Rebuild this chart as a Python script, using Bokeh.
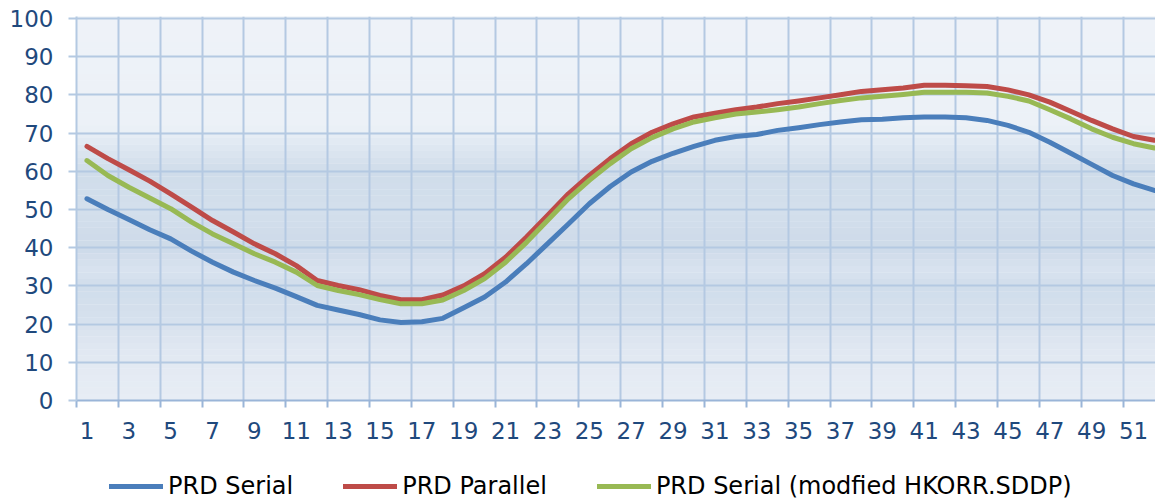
from bokeh.plotting import figure
from bokeh.models import FixedTicker, Legend, LegendItem, BoxAnnotation, Range1d
from bokeh.layouts import column
from bokeh.embed import file_html
from bokeh.resources import INLINE

# ---- data ----
weeks = list(range(1, 53))
tick_weeks = weeks[::2]
prd_serial = [52.8, 50.0, 47.4, 44.7, 42.3, 39.1, 36.2, 33.6, 31.4, 29.4, 27.2, 24.9, 23.7, 22.5,
              21.1, 20.4, 20.6, 21.5, 24.3, 27.1, 31.0, 35.8, 41.0, 46.2, 51.5, 56.0, 59.8, 62.6,
              64.7, 66.5, 68.1, 69.1, 69.6, 70.7, 71.4, 72.2, 72.9, 73.5, 73.6, 74.0, 74.2, 74.2,
              74.0, 73.3, 72.0, 70.2, 67.6, 64.7, 61.8, 58.9, 56.7, 55.0]
prd_parallel = [66.5, 63.3, 60.4, 57.4, 54.1, 50.6, 47.1, 44.1, 41.0, 38.4, 35.3, 31.4, 30.1, 29.0,
                27.5, 26.4, 26.4, 27.6, 30.0, 33.2, 37.5, 42.8, 48.4, 54.1, 58.9, 63.3, 67.2, 70.2,
                72.4, 74.2, 75.2, 76.1, 76.8, 77.7, 78.4, 79.2, 80.0, 80.9, 81.3, 81.8, 82.5, 82.5,
                82.4, 82.2, 81.3, 80.0, 78.1, 75.7, 73.3, 71.1, 69.1, 68.1]
prd_serial_mod = [62.8, 58.9, 55.8, 53.0, 50.2, 46.7, 43.6, 41.0, 38.4, 36.2, 33.6, 30.1, 28.8, 27.7,
                  26.4, 25.3, 25.3, 26.3, 28.8, 31.9, 36.2, 41.4, 47.1, 52.8, 57.6, 62.0, 65.9, 68.8,
                  71.1, 72.9, 74.0, 75.0, 75.5, 76.1, 76.8, 77.7, 78.5, 79.2, 79.6, 80.1, 80.7, 80.7,
                  80.7, 80.5, 79.6, 78.4, 76.1, 73.7, 71.1, 68.9, 67.2, 66.1]
series_names = ["PRD Serial", "PRD Parallel", "PRD Serial (modfied HKORR.SDDP)"]
series_colors = ["#4A7EBB", "#BE4B48", "#98B954"]
y_ticks = [0, 10, 20, 30, 40, 50, 60, 70, 80, 90, 100]

GRID = "#B4C9E2"
AXIS = "#9AB5D8"
TXT = "#1F497D"
FONT = "DejaVu Sans"

p = figure(width=1155, height=450, output_backend="svg", toolbar_location=None,
           x_range=Range1d(0.5, 52.05), y_range=Range1d(0, 100.5),
           min_border_left=76, min_border_right=0, min_border_top=16, min_border_bottom=50)
p.outline_line_color = None
p.background_fill_color = "#EEF2F8"
p.border_fill_color = "white"

# background gradient (decoration)
stops = [(100.5, (238, 242, 248)), (72, (236, 241, 247)), (66, (222, 231, 241)),
         (60, (207, 220, 234)), (50, (211, 223, 236)), (40, (205, 218, 233)),
         (34, (217, 227, 239)), (30, (208, 221, 235)), (22, (213, 224, 237)),
         (12, (226, 233, 242)), (0, (231, 237, 245))]
nb = 60
for k in range(nb):
    top = 100.5 - k * 100.5 / nb
    bot = 100.5 - (k + 1) * 100.5 / nb
    mid = (top + bot) / 2
    c = stops[-1][1]
    for j in range(len(stops) - 1):
        a, ca = stops[j]
        b, cb = stops[j + 1]
        if a >= mid >= b:
            t = (a - mid) / (a - b)
            c = tuple(int(round(ca[i] + (cb[i] - ca[i]) * t)) for i in range(3))
            break
    p.add_layout(BoxAnnotation(top=top, bottom=bot, fill_color="#%02x%02x%02x" % c,
                               fill_alpha=1.0, line_color=None, level="image"))

# x axis: labels at categories, ticks/grid at category boundaries
xt = FixedTicker(ticks=tick_weeks, minor_ticks=[w - 0.5 for w in tick_weeks])
p.xaxis.ticker = xt
p.xgrid.ticker = xt
p.xgrid.grid_line_color = None
p.xgrid.minor_grid_line_color = GRID
p.xgrid.minor_grid_line_width = 2
p.xaxis.major_tick_line_color = None
p.xaxis.minor_tick_line_color = AXIS
p.xaxis.minor_tick_line_width = 2
p.xaxis.minor_tick_out = 7
p.xaxis.minor_tick_in = 0
p.xaxis.axis_line_color = AXIS
p.xaxis.axis_line_width = 2
p.xaxis.major_label_standoff = 14
p.xaxis.major_label_text_font = FONT
p.xaxis.major_label_text_font_size = "23px"
p.xaxis.major_label_text_color = TXT

yt = FixedTicker(ticks=y_ticks, minor_ticks=[])
p.yaxis.ticker = yt
p.ygrid.ticker = yt
p.ygrid.grid_line_color = GRID
p.ygrid.grid_line_width = 2
p.yaxis.axis_line_color = GRID
p.yaxis.axis_line_width = 2
p.yaxis.major_tick_line_color = GRID
p.yaxis.major_tick_line_width = 2
p.yaxis.major_tick_out = 8
p.yaxis.major_tick_in = 0
p.yaxis.minor_tick_line_color = None
p.yaxis.major_label_standoff = 15
p.yaxis.major_label_text_font = FONT
p.yaxis.major_label_text_font_size = "23px"
p.yaxis.major_label_text_color = TXT

series = [prd_serial, prd_parallel, prd_serial_mod]
for vals, col in zip(series, series_colors):
    p.line(weeks, vals, line_color=col, line_width=5, line_join="round", line_cap="round")

# legend strip (its lines lie outside its visible range; only their legend swatches show)
lp = figure(width=1155, height=50, output_backend="svg", toolbar_location=None,
            x_range=Range1d(0.5, 52.05), y_range=Range1d(500, 600),
            x_axis_type=None, y_axis_type=None,
            min_border_left=0, min_border_right=0, min_border_top=0, min_border_bottom=0)
lp.outline_line_color = None
lp.grid.visible = False
lp.background_fill_color = "white"
items = []
for vals, name, col in zip(series, series_names, series_colors):
    r = lp.line(weeks, vals, line_color=col, line_width=5, line_cap="round")
    items.append(LegendItem(label=name, renderers=[r]))
legend = Legend(items=items, orientation="horizontal", location=(33, 0),
                label_text_font=FONT, label_text_font_size="24px", label_text_color="#000000",
                glyph_width=54, glyph_height=26, label_standoff=5, spacing=50,
                padding=0, margin=0, border_line_color=None, background_fill_alpha=0)
lp.add_layout(legend)

open("out.html", "w").write(file_html(column(p, lp, spacing=0), INLINE))
